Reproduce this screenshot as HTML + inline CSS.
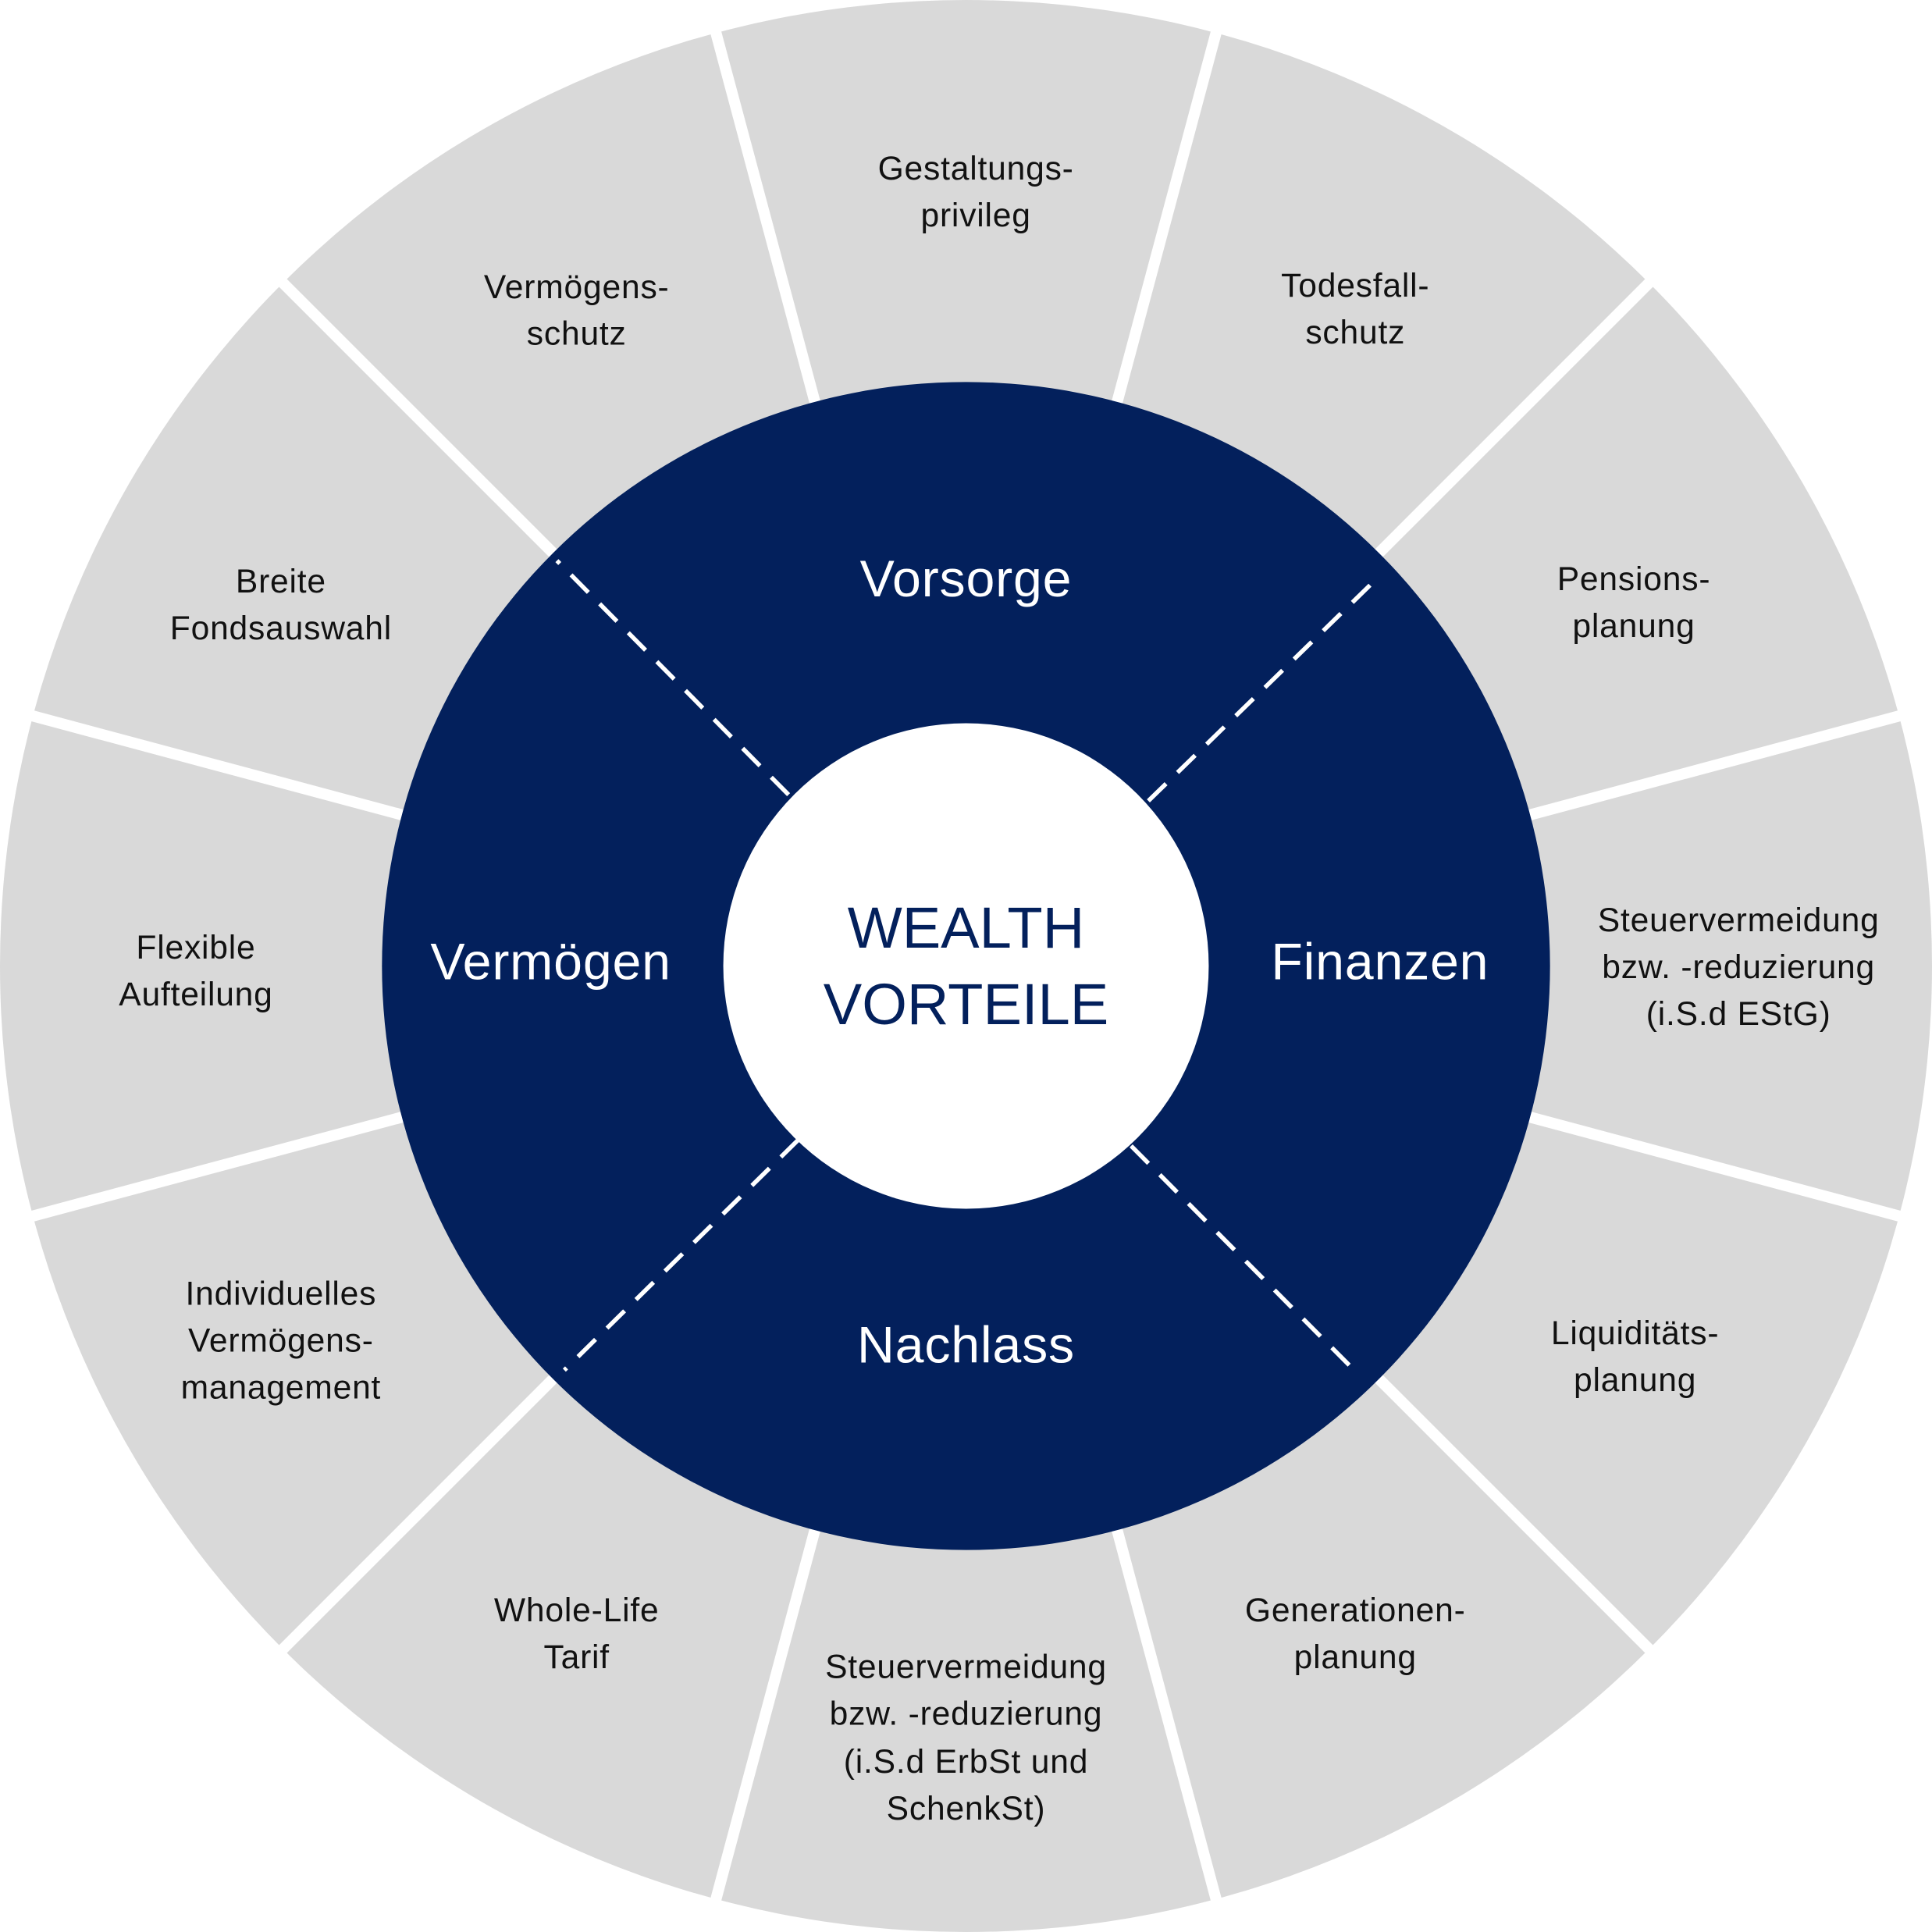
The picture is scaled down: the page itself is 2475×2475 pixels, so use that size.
<!DOCTYPE html>
<html><head><meta charset="utf-8"><style>
html,body{margin:0;padding:0;background:#fff}
svg{display:block}
text{font-family:"Liberation Sans","DejaVu Sans",sans-serif;text-anchor:middle;dominant-baseline:central}
.g{font-size:27px;fill:#111;letter-spacing:0.5px}
.d{font-size:42px;fill:#fff;letter-spacing:0.5px}
.c{font-size:47px;fill:#03205C}
</style></head><body>
<svg width="2475" height="2475" viewBox="0 0 1568 1568" xmlns="http://www.w3.org/2000/svg">
<rect width="1568" height="1568" fill="#fff"/>
<circle cx="784" cy="784" r="784" fill="#d9d9d9"/>
<g stroke="#fff" stroke-width="9">
<line x1="784" y1="784" x2="784" y2="-20" transform="rotate(15 784 784)"/>
<line x1="784" y1="784" x2="784" y2="-20" transform="rotate(45 784 784)"/>
<line x1="784" y1="784" x2="784" y2="-20" transform="rotate(75 784 784)"/>
<line x1="784" y1="784" x2="784" y2="-20" transform="rotate(105 784 784)"/>
<line x1="784" y1="784" x2="784" y2="-20" transform="rotate(135 784 784)"/>
<line x1="784" y1="784" x2="784" y2="-20" transform="rotate(165 784 784)"/>
<line x1="784" y1="784" x2="784" y2="-20" transform="rotate(195 784 784)"/>
<line x1="784" y1="784" x2="784" y2="-20" transform="rotate(225 784 784)"/>
<line x1="784" y1="784" x2="784" y2="-20" transform="rotate(255 784 784)"/>
<line x1="784" y1="784" x2="784" y2="-20" transform="rotate(285 784 784)"/>
<line x1="784" y1="784" x2="784" y2="-20" transform="rotate(315 784 784)"/>
<line x1="784" y1="784" x2="784" y2="-20" transform="rotate(345 784 784)"/>
</g>
<circle cx="784" cy="784" r="474" fill="#03205C"/>
<g stroke="#fff" stroke-width="3.5" stroke-dasharray="20 13">
<line x1="640" y1="645" x2="452" y2="455"/>
<line x1="932" y1="650" x2="1117" y2="470"/>
<line x1="918" y1="930" x2="1102" y2="1115"/>
<line x1="648" y1="925" x2="458" y2="1112"/>
</g>
<circle cx="784" cy="784" r="197" fill="#fff"/>
<text class="c" x="784" y="753">WEALTH</text>
<text class="c" x="784" y="815">VORTEILE</text>
<text class="d" x="784" y="470">Vorsorge</text>
<text class="d" x="1120" y="781">Finanzen</text>
<text class="d" x="784" y="1092">Nachlass</text>
<text class="d" x="447" y="781">Vermögen</text>
<g class="g">
<text x="792" y="137">Gestaltungs-</text><text x="792" y="175">privileg</text>
<text x="1100" y="232">Todesfall-</text><text x="1100" y="270">schutz</text>
<text x="1326" y="470">Pensions-</text><text x="1326" y="508">planung</text>
<text x="1411" y="747">Steuervermeidung</text><text x="1411" y="785">bzw. -reduzierung</text><text x="1411" y="823">(i.S.d EStG)</text>
<text x="1327" y="1082">Liquiditäts-</text><text x="1327" y="1120">planung</text>
<text x="1100" y="1307">Generationen-</text><text x="1100" y="1345">planung</text>
<text x="784" y="1353">Steuervermeidung</text><text x="784" y="1391">bzw. -reduzierung</text><text x="784" y="1430">(i.S.d ErbSt und</text><text x="784" y="1468">SchenkSt)</text>
<text x="468" y="1307">Whole-Life</text><text x="468" y="1345">Tarif</text>
<text x="228" y="1050">Individuelles</text><text x="228" y="1088">Vermögens-</text><text x="228" y="1126">management</text>
<text x="159" y="769">Flexible</text><text x="159" y="807">Aufteilung</text>
<text x="228" y="472">Breite</text><text x="228" y="510">Fondsauswahl</text>
<text x="468" y="233">Vermögens-</text><text x="468" y="271">schutz</text>
</g>
</svg>
</body></html>
